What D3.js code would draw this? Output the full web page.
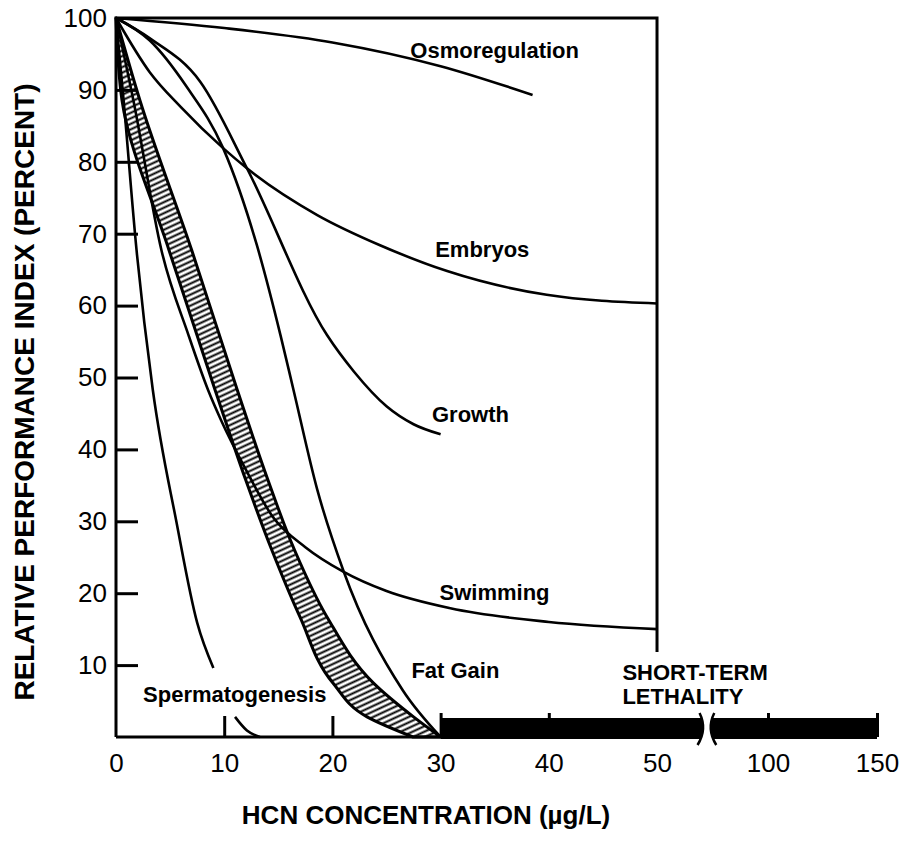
<!DOCTYPE html>
<html>
<head>
<meta charset="utf-8">
<script src="https://cdn.jsdelivr.net/npm/d3@7/dist/d3.min.js"></script>
<style>
body { margin: 0; background: #fff; }
text { font-family: "Liberation Sans", Arial, sans-serif; }
</style>
</head>
<body>
<div class="chart"></div>
<script>
var width = 904;
var height = 841;

// values: x = HCN (ug/L), y = relative performance (%)
var osmoX = [0, 10, 20, 30, 38.5];
var osmoY = [100, 98.6, 96.6, 93.3, 89.3];

var embryoX = [0, 3.1, 6, 9.9, 12.1, 18.6, 24.4, 30.6, 39.8, 50];
var embryoY = [100, 92.5, 87.6, 81.9, 79.1, 72.6, 68.4, 64.8, 61.5, 60.3];

var growthX = [0, 3.1, 7.8, 12.1, 19.5, 22, 25, 27.5, 30];
var growthY = [100, 97.2, 91.1, 79.1, 55.9, 50.8, 46.0, 43.5, 42.1];

var swimX = [0, 1.6, 4.2, 6.7, 8.5, 9.7, 12, 14.5, 17.5, 21, 25, 30.9, 40, 50];
var swimY = [100, 88.6, 67.7, 55.9, 48.3, 44.1, 37.2, 30.6, 26.4, 23.0, 20.3, 17.9, 16.0, 15.0];

var fatX = [0, 3.1, 6.5, 9.9, 13, 15.2, 16.4, 18.6, 21, 26.5, 30];
var fatY = [100, 96.9, 90.5, 81.9, 68.5, 55.9, 48.3, 34.4, 23.2, 6.5, 0];

// null = gap where the label sits
var spermX = [0, 0.7, 1.9, 3.4, 5.6, 7.5, 9.0, null, 11.0, 12.1, 13.3];
var spermY = [100, 88.6, 67.7, 48.3, 29.8, 15.9, 9.6, null, 2.8, 0.9, 0];

// hatched band, by level: left and right edge
var bandLevel = [100, 88.6, 67.7, 48.3, 35.7, 26.0, 16.7, 7.5, 2.8, 0];
var bandLo = [0, 0.55, 4.9, 9.15, 12.0, 14.4, 17.0, 20.05, 23.2, 27.45];
var bandHi = [0, 2.2, 7.0, 11.2, 14.05, 16.5, 19.5, 23.8, 27.5, 30];

// short-term lethality range and axis break
var lethalRange = [30, 150];
var breakRange = [54.3, 69.8];

var xTickVals = [0, 10, 20, 30, 40, 50, 100, 150];
var xMarkLow = [10, 20];
var xMarkBar = [30, 40, 100, 150];
var yTickVals = [10, 20, 30, 40, 50, 60, 70, 80, 90, 100];

var labelText = ["Osmoregulation", "Embryos", "Growth", "Swimming", "Fat Gain", "Spermatogenesis"];
var labelX = [27.2, 29.5, 29.2, 29.9, 27.3, 2.5];
var labelY = [94.4, 66.8, 43.8, 19.1, 8.2, 4.9];

var svg = d3.select(".chart")
    .append("svg")
    .attr("width", width)
    .attr("height", height);

// broken x scale: 0-50 linear, then a jump to the 100/150 part
var x = d3.scaleLinear()
    .domain([0, 54, 78, 150])
    .range([116, 700.3, 720, 877]);

var y = d3.scaleLinear()
    .domain([0, 100])
    .range([737, 18]);

var defs = svg.append("defs");
defs.append("pattern")
    .attr("id", "hatch")
    .attr("patternUnits", "userSpaceOnUse")
    .attr("width", 5)
    .attr("height", 5)
    .attr("patternTransform", "rotate(-25)")
  .append("line")
    .attr("x1", 0).attr("y1", 2.5)
    .attr("x2", 5).attr("y2", 2.5)
    .attr("stroke", "black")
    .attr("stroke-width", 2);

// hatched band
var band = d3.area()
    .curve(d3.curveMonotoneY)
    .y(function(d) { return y(d[0]); })
    .x0(function(d) { return x(d[1]); })
    .x1(function(d) { return x(d[2]); });

svg.append("path")
    .datum(d3.zip(bandLevel, bandLo, bandHi))
    .attr("fill", "url(#hatch)")
    .attr("stroke", "black")
    .attr("stroke-width", 3)
    .attr("stroke-linejoin", "round")
    .attr("d", band);

// response curves
var line = d3.line()
    .defined(function(d) { return d[0] !== null; })
    .curve(d3.curveMonotoneX)
    .x(function(d) { return x(d[0]); })
    .y(function(d) { return y(d[1]); });

var curves = [
    d3.zip(osmoX, osmoY),
    d3.zip(embryoX, embryoY),
    d3.zip(growthX, growthY),
    d3.zip(swimX, swimY),
    d3.zip(fatX, fatY),
    d3.zip(spermX, spermY)
];

svg.append("g").selectAll("path")
    .data(curves)
    .enter()
    .append("path")
    .attr("fill", "none")
    .attr("stroke", "black")
    .attr("stroke-width", 2.6)
    .attr("d", line);

// frame: left axis, top, right side down to the lethality label
svg.append("path")
    .attr("fill", "none")
    .attr("stroke", "black")
    .attr("stroke-width", 3)
    .attr("d", "M" + x(0) + "," + y(0) + "V" + y(100) + "H" + x(50) + "V" + (y(0) - 85));

svg.append("line")
    .attr("x1", x(0)).attr("x2", x(lethalRange[0]))
    .attr("y1", y(0)).attr("y2", y(0))
    .attr("stroke", "black")
    .attr("stroke-width", 3);

// y axis, ticks pointing inward
var yAxis = svg.append("g")
    .attr("transform", "translate(" + x(0) + ",0)")
    .call(d3.axisLeft(y).tickValues(yTickVals).tickSize(-22).tickPadding(9));
yAxis.select(".domain").remove();
yAxis.selectAll("line").attr("stroke-width", 3);
yAxis.selectAll("text")
    .attr("font-family", "Liberation Sans, Arial, sans-serif")
    .attr("font-size", 26)
    .attr("fill", "black");

// x axis labels
var xAxis = svg.append("g")
    .attr("transform", "translate(0," + y(0) + ")")
    .call(d3.axisBottom(x).tickValues(xTickVals).tickSize(0).tickPadding(17));
xAxis.select(".domain").remove();
xAxis.selectAll("text")
    .attr("font-family", "Liberation Sans, Arial, sans-serif")
    .attr("font-size", 26)
    .attr("fill", "black");

// x tick marks
var xMarks1 = svg.append("g")
    .attr("transform", "translate(0," + y(0) + ")")
    .call(d3.axisBottom(x).tickValues(xMarkLow).tickSize(-21).tickFormat(""));
xMarks1.select(".domain").remove();
xMarks1.selectAll("line").attr("stroke-width", 3);

var xMarks2 = svg.append("g")
    .attr("transform", "translate(0," + y(0) + ")")
    .call(d3.axisBottom(x).tickValues(xMarkBar).tickSize(-24).tickFormat(""));
xMarks2.select(".domain").remove();
xMarks2.selectAll("line").attr("stroke-width", 3);

// short-term lethality bar with break
svg.append("rect")
    .attr("x", x(lethalRange[0]))
    .attr("y", y(0) - 19)
    .attr("width", x(lethalRange[1]) - x(lethalRange[0]))
    .attr("height", 21)
    .attr("fill", "black");

var b0 = x(breakRange[0]), b1 = x(breakRange[1]);
var bTop = y(0) - 24, bMid = y(0) - 8, bBot = y(0) + 8;

svg.append("path")
    .attr("fill", "white")
    .attr("d", "M" + (b0 - 1) + "," + bTop + "Q" + (b0 + 7) + "," + bMid + " " + (b0 - 3) + "," + bBot +
               "L" + (b1 + 3) + "," + bBot + "Q" + (b1 - 7) + "," + bMid + " " + (b1 + 1) + "," + bTop + "Z");

svg.append("path")
    .attr("fill", "none")
    .attr("stroke", "black")
    .attr("stroke-width", 2.5)
    .attr("d", "M" + (b0 - 1) + "," + bTop + "Q" + (b0 + 7) + "," + bMid + " " + (b0 - 3) + "," + bBot +
               "M" + (b1 + 1) + "," + bTop + "Q" + (b1 - 7) + "," + bMid + " " + (b1 + 3) + "," + bBot);

// curve labels
svg.append("g").selectAll("text")
    .data(labelText)
    .enter()
    .append("text")
    .attr("x", function(d, i) { return x(labelX[i]); })
    .attr("y", function(d, i) { return y(labelY[i]); })
    .attr("font-size", 22)
    .attr("font-weight", "bold")
    .text(function(d) { return d; });

var lethal = svg.append("text")
    .attr("x", x(46.8))
    .attr("y", y(7.9))
    .attr("font-size", 22)
    .attr("font-weight", "bold");
lethal.append("tspan").attr("x", x(46.8)).text("SHORT-TERM");
lethal.append("tspan").attr("x", x(46.8)).attr("dy", 24).text("LETHALITY");

// axis titles
svg.append("text")
    .attr("x", 426)
    .attr("y", 824)
    .attr("text-anchor", "middle")
    .attr("font-size", 26)
    .attr("font-weight", "bold")
    .text("HCN CONCENTRATION (µg/L)");

svg.append("text")
    .attr("transform", "translate(34,392) rotate(-90)")
    .attr("text-anchor", "middle")
    .attr("font-size", 28)
    .attr("font-weight", "bold")
    .text("RELATIVE PERFORMANCE INDEX (PERCENT)");
</script>
</body>
</html>
